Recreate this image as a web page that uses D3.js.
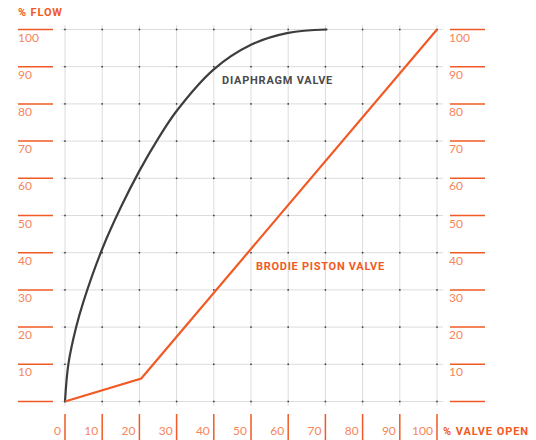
<!DOCTYPE html>
<html>
<head>
<meta charset="utf-8">
<script src="https://cdn.jsdelivr.net/npm/d3@7"></script>
<style>
  html, body { margin: 0; padding: 0; background: #fff; }
  svg { display: block; }
</style>
</head>
<body>
<svg id="chart" width="536" height="440"></svg>
<script>
// ---- data ----
const xTicks = [0, 10, 20, 30, 40, 50, 60, 70, 80, 90, 100];
const yTicks = [10, 20, 30, 40, 50, 60, 70, 80, 90, 100];
const diaphragmX = [0, 0.9, 3, 5, 10, 15, 20, 25, 30, 40, 50, 60, 70.3];
const diaphragmY = [0, 10, 20, 27, 41, 52.2, 62, 70.6, 78.1, 89.3, 95.9, 99.1, 100];
const pistonX = [0, 20.5, 100];
const pistonY = [0, 6.2, 100];
const yAxisTitle = "% FLOW";
const xAxisTitle = "% VALVE OPEN";
const seriesNames = ["DIAPHRAGM VALVE", "BRODIE PISTON VALVE"];

// ---- drawing ----
const orange = "#f15a24";
const labelOrange = "#f5865c";
const dark = "#3d3d3d";
const svg = d3.select("#chart");

const x = d3.scaleLinear().domain([0, 100]).range([65, 437]);
const y = d3.scaleLinear().domain([0, 100]).range([401.5, 29.5]);
const fontNum = "Lato, 'Open Sans', sans-serif";
const fontBold = "Roboto, 'DejaVu Sans', sans-serif";

// grid
const grid = svg.append("g");
grid.selectAll(".v").data(xTicks).join("line")
  .attr("x1", d => x(d)).attr("x2", d => x(d))
  .attr("y1", 25).attr("y2", 406)
  .attr("stroke", "#dcdcdc").attr("stroke-width", 1);
grid.selectAll(".h").data([0, ...yTicks]).join("line")
  .attr("x1", 61).attr("x2", 443)
  .attr("y1", d => y(d)).attr("y2", d => y(d))
  .attr("stroke", "#dcdcdc").attr("stroke-width", 1);
// intersection dots
const pts = [];
xTicks.forEach(a => [0, ...yTicks].forEach(b => pts.push([a, b])));
grid.selectAll(".dot").data(pts).join("rect")
  .attr("x", d => x(d[0]) - 0.75).attr("y", d => y(d[1]) - 0.75)
  .attr("width", 1.5).attr("height", 1.5).attr("fill", "#333");

// left axis
const left = svg.append("g");
left.selectAll("line").data([0, ...yTicks]).join("line")
  .attr("x1", 18).attr("x2", 53)
  .attr("y1", d => y(d)).attr("y2", d => y(d))
  .attr("stroke", orange).attr("stroke-width", 1.5);
left.selectAll("text").data(yTicks).join("text")
  .attr("x", 18).attr("y", d => y(d) + 12)
  .attr("font-family", fontNum).attr("font-weight", 400).attr("font-size", 12)
  .attr("fill", labelOrange).text(d => d);

// right axis
const right = svg.append("g");
right.selectAll("line").data([0, ...yTicks]).join("line")
  .attr("x1", 450).attr("x2", 485)
  .attr("y1", d => y(d)).attr("y2", d => y(d))
  .attr("stroke", orange).attr("stroke-width", 1.5);
right.selectAll("text").data(yTicks).join("text")
  .attr("x", 449).attr("y", d => y(d) + 12)
  .attr("font-family", fontNum).attr("font-weight", 400).attr("font-size", 12)
  .attr("fill", labelOrange).text(d => d);

// bottom axis
const bottom = svg.append("g");
bottom.selectAll("line").data(xTicks).join("line")
  .attr("x1", d => x(d)).attr("x2", d => x(d))
  .attr("y1", 414).attr("y2", 440)
  .attr("stroke", orange).attr("stroke-width", 1.5);
bottom.selectAll("text").data(xTicks).join("text")
  .attr("x", d => x(d) - 4).attr("y", 435)
  .attr("text-anchor", "end")
  .attr("font-family", fontNum).attr("font-weight", 400).attr("font-size", 12)
  .attr("fill", labelOrange).text(d => d);

// axis titles
svg.append("text").attr("x", 18).attr("y", 16)
  .attr("font-family", fontBold).attr("font-weight", 700).attr("font-size", 11)
  .attr("letter-spacing", 0.85).attr("fill", orange).text(yAxisTitle);
svg.append("text").attr("x", 443).attr("y", 435)
  .attr("font-family", fontBold).attr("font-weight", 700).attr("font-size", 11)
  .attr("letter-spacing", 0.95).attr("fill", orange).text(xAxisTitle);

// lines
const diaData = diaphragmX.map((d, i) => [d, diaphragmY[i]]);
const pisData = pistonX.map((d, i) => [d, pistonY[i]]);
svg.append("path").datum(diaData)
  .attr("d", d3.line().x(d => x(d[0])).y(d => y(d[1])).curve(d3.curveCatmullRom.alpha(0.5)))
  .attr("fill", "none").attr("stroke", dark).attr("stroke-width", 2.2)
  .attr("stroke-linecap", "round");
svg.append("path").datum(pisData)
  .attr("d", d3.line().x(d => x(d[0])).y(d => y(d[1])))
  .attr("fill", "none").attr("stroke", orange).attr("stroke-width", 2.2)
  .attr("stroke-linejoin", "miter");

// series labels
svg.append("text").attr("x", 222).attr("y", 84)
  .attr("font-family", fontBold).attr("font-weight", 700).attr("font-size", 11)
  .attr("letter-spacing", 0.78).attr("fill", "#4a4a4a").text(seriesNames[0]);
svg.append("text").attr("x", 256).attr("y", 270)
  .attr("font-family", fontBold).attr("font-weight", 700).attr("font-size", 11)
  .attr("letter-spacing", 0.72).attr("fill", orange).text(seriesNames[1]);
</script>
</body>
</html>
